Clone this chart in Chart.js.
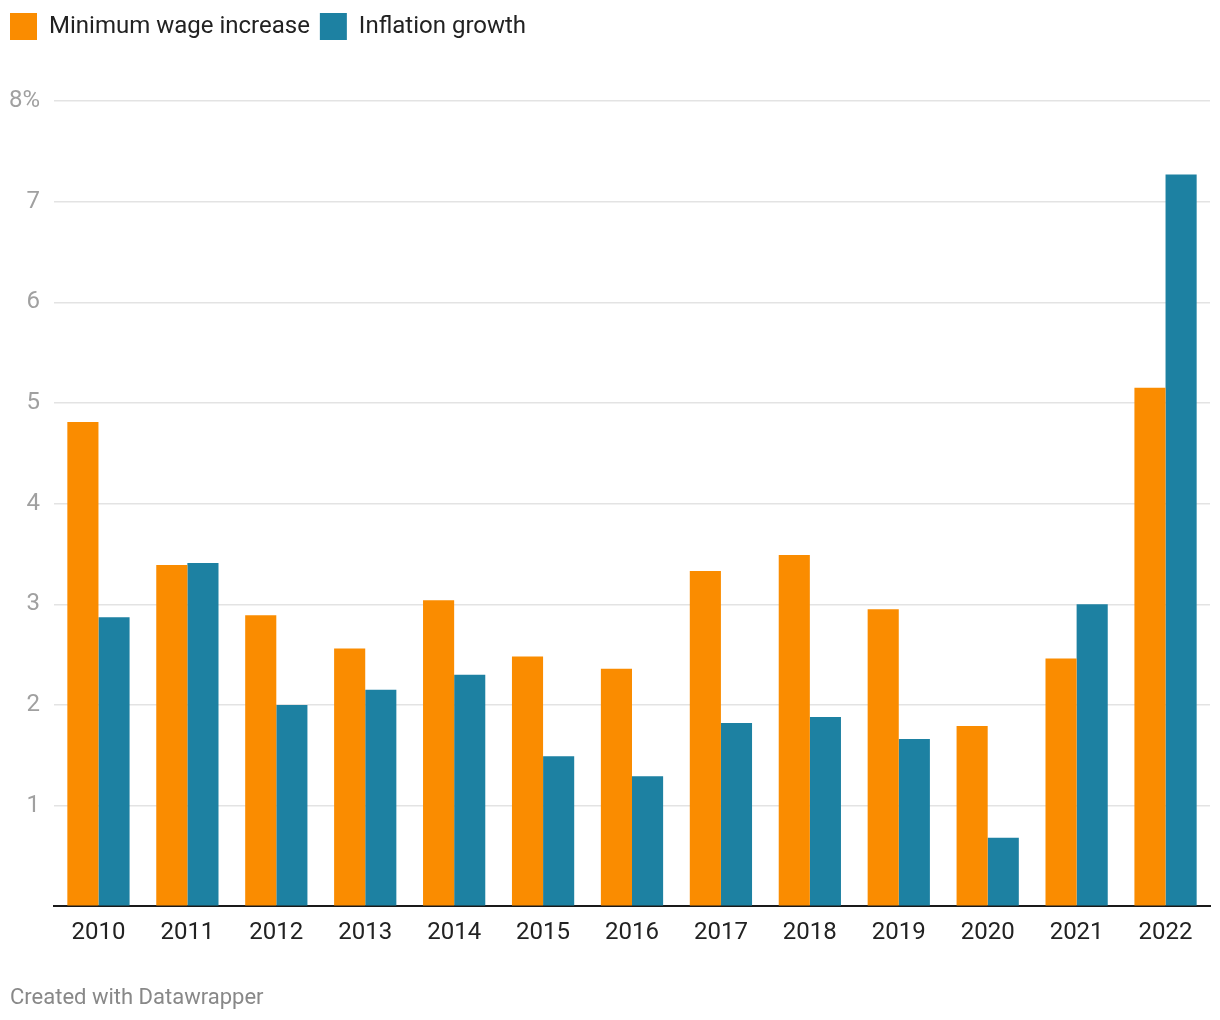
<!DOCTYPE html>
<html>
<head>
<meta charset="utf-8">
<script src="https://cdn.jsdelivr.net/npm/chart.js@4"></script>
<style>
  body { margin: 0; background: #fff; }
  #wrap { position: relative; width: 1220px; height: 1020px; }
  #credit {
    position: absolute; left: 10px; top: 984px;
    font: 22px Roboto, sans-serif; line-height: 26px; color: #888;
  }
</style>
</head>
<body>
<div id="wrap">
  <canvas id="bar-chart"></canvas>
  <div id="credit">Created with Datawrapper</div>
</div>
<script>
var years = ["2010", "2011", "2012", "2013", "2014", "2015", "2016",
             "2017", "2018", "2019", "2020", "2021", "2022"];
var minWage = [4.81, 3.39, 2.89, 2.56, 3.04, 2.48, 2.36, 3.33, 3.49, 2.95, 1.79, 2.46, 5.15];
var inflation = [2.87, 3.41, 2.0, 2.15, 2.30, 1.49, 1.29, 1.82, 1.88, 1.66, 0.68, 3.0, 7.27];
var yTicks = [0, 1, 2, 3, 4, 5, 6, 7, 8];

Chart.defaults.font.family = "Roboto, 'Noto Sans', sans-serif";

// push the plot down below the legend
var legendGap = {
    id: "legendGap",
    beforeInit: function (chart) {
        var fit = chart.legend.fit;
        chart.legend.fit = function () {
            fit.call(this);
            this.height = 98;
        };
    },
};

new Chart(document.getElementById("bar-chart"), {
    type: "bar",
    plugins: [legendGap],
    data: {
        labels: years,
        datasets: [
            {
                label: "Minimum wage increase",
                data: minWage,
                backgroundColor: "#fa8c00",
            },
            {
                label: "Inflation growth",
                data: inflation,
                backgroundColor: "#1d81a2",
            },
        ],
    },
    options: {
        responsive: true,
        maintainAspectRatio: false,
        animation: false,
        layout: { padding: { top: 3, right: 10, bottom: 61, left: 0 } },
        datasets: { bar: { categoryPercentage: 0.7, barPercentage: 1.0 } },
        plugins: {
            tooltip: { enabled: false },
            legend: {
                position: "top",
                align: "start",
                labels: {
                    boxWidth: 27,
                    boxHeight: 27,
                    padding: 10,
                    color: "#222",
                    font: { size: 24 },
                },
            },
        },
        scales: {
            x: {
                grid: { display: false, drawTicks: false },
                border: { display: true, color: "#1a1a1a", width: 2 },
                ticks: { color: "#222", font: { size: 24 }, padding: 12 },
            },
            y: {
                min: 0,
                max: 8,
                afterBuildTicks: function (scale) {
                    scale.ticks = yTicks.map(function (v) { return { value: v }; });
                },
                afterFit: function (scale) { scale.width = 54; },
                border: { display: false },
                grid: { color: "#e3e3e3", lineWidth: 1.5, drawTicks: false },
                ticks: {
                    color: "#a0a0a0",
                    font: { size: 24 },
                    padding: 14,
                    callback: function (v) {
                        if (v === 0) return "";
                        return v === 8 ? v + "%" : v;
                    },
                },
            },
        },
    },
});
</script>
</body>
</html>
